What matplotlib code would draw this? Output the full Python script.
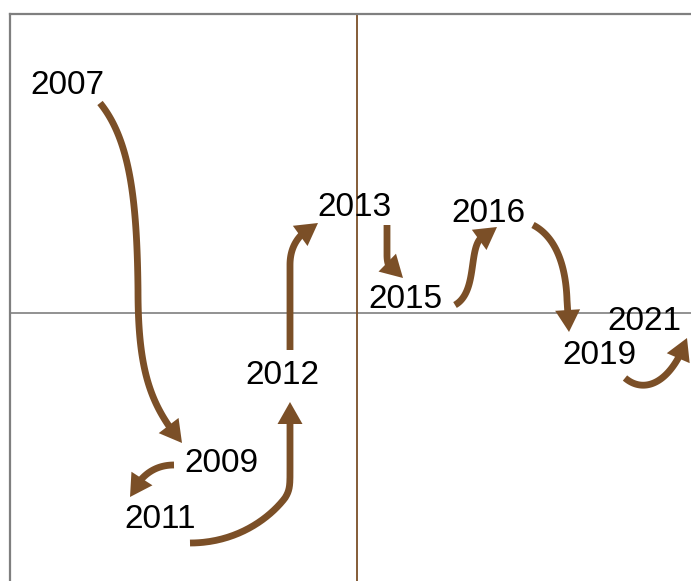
import matplotlib
matplotlib.use("Agg")
import numpy as np
import matplotlib.pyplot as plt

plt.rcParams['font.family'] = ['Liberation Sans', 'DejaVu Sans']

BROWN = '#7b4f27'
GRAY = '#7f7f7f'

# year labels and where they sit on the map
years = ['2007', '2009', '2011', '2012', '2013', '2015', '2016', '2019', '2021']
label_x = [-2.90, -1.36, -1.97, -0.75, -0.03, 0.48, 1.31, 2.42, 2.87]
label_y = [2.28, -1.50, -2.06, -0.63, 1.06, 0.14, 1.00, -0.43, -0.08]

# trajectory between consecutive years: M = move, C = cubic bezier, L = line
trail_07_09 = [('M', (-2.57, 2.10)),
               ('C', (-2.27, 1.73), (-2.20, 1.13), (-2.19, 0.23)),
               ('C', (-2.19, -0.57), (-2.07, -0.92), (-1.75, -1.30))]
trail_09_11 = [('M', (-1.83, -1.52)),
               ('C', (-2.02, -1.52), (-2.17, -1.62), (-2.27, -1.84))]
trail_11_12 = [('M', (-1.67, -2.30)),
               ('C', (-1.22, -2.30), (-0.89, -2.07), (-0.72, -1.85)),
               ('C', (-0.67, -1.77), (-0.67, -1.72), (-0.67, -1.57)),
               ('L', (-0.67, -0.89))]
trail_12_13 = [('M', (-0.67, -0.37)),
               ('L', (-0.67, 0.48)),
               ('C', (-0.67, 0.68), (-0.57, 0.81), (-0.39, 0.90))]
trail_13_15 = [('M', (0.30, 0.88)),
               ('L', (0.30, 0.58)),
               ('C', (0.30, 0.45), (0.35, 0.41), (0.46, 0.35))]
trail_15_16 = [('M', (0.98, 0.08)),
               ('C', (1.21, 0.21), (1.11, 0.65), (1.25, 0.76)),
               ('C', (1.31, 0.81), (1.35, 0.84), (1.40, 0.86))]
trail_16_19 = [('M', (1.76, 0.88)),
               ('C', (2.01, 0.75), (2.09, 0.43), (2.10, 0.13)),
               ('L', (2.12, -0.19))]
trail_19_21 = [('M', (2.68, -0.65)),
               ('C', (2.88, -0.82), (3.15, -0.69), (3.30, -0.25))]

trails = [trail_07_09, trail_09_11, trail_11_12, trail_12_13,
          trail_13_15, trail_15_16, trail_16_19, trail_19_21]

HEAD_LEN = 0.22
HEAD_HALF = 0.125


def sample(segments, n=60):
    pts = []
    cur = np.array(segments[0][1], float)
    pts.append(cur)
    t = np.linspace(0, 1, n)[1:, None]
    for seg in segments[1:]:
        kind = seg[0]
        if kind == 'L':
            end = np.array(seg[1], float)
            pts.extend(cur + t * (end - cur))
        else:
            c1, c2, end = (np.array(p, float) for p in seg[1:])
            pts.extend((1 - t) ** 3 * cur + 3 * (1 - t) ** 2 * t * c1
                       + 3 * (1 - t) * t ** 2 * c2 + t ** 3 * end)
        cur = end
    return np.array(pts)


def draw_arrow(ax, segments):
    pts = sample(segments)
    dist = np.concatenate([[0], np.cumsum(np.hypot(*np.diff(pts, axis=0).T))])
    total = dist[-1]
    tip = pts[-1]
    back = pts[np.searchsorted(dist, total - HEAD_LEN)]
    d = (tip - back) / np.hypot(*(tip - back))
    normal = np.array([-d[1], d[0]])
    base = tip - d * HEAD_LEN
    body = pts[dist <= total - HEAD_LEN * 0.6]
    ax.plot(body[:, 0], body[:, 1], color=BROWN, lw=4.9,
            solid_capstyle='butt', solid_joinstyle='round', zorder=3)
    head = np.array([tip, base + normal * HEAD_HALF, base - normal * HEAD_HALF])
    ax.fill(head[:, 0], head[:, 1], color=BROWN, lw=0, zorder=3)


fig = plt.figure(figsize=(6.91, 5.81), dpi=100)
ax = fig.add_axes([10 / 691, 0, 1 - 10 / 691, 567 / 581])
ax.set_xlim(-3.47, 3.34)
ax.set_ylim(-2.68, 2.99)
ax.set_xticks([])
ax.set_yticks([])
for side in ['right', 'bottom']:
    ax.spines[side].set_visible(False)
for side in ['left', 'top']:
    ax.spines[side].set_color(GRAY)
    ax.spines[side].set_linewidth(1.6)

ax.axhline(0, color=GRAY, lw=1.2, zorder=1)
ax.axvline(0, color=BROWN, lw=1.3, zorder=1)

for trail in trails:
    draw_arrow(ax, trail)

for name, x, y in zip(years, label_x, label_y):
    ax.text(x, y, name, fontsize=24, ha='center', va='center',
            color='black', zorder=4)

fig.savefig('out.png', dpi=100)
